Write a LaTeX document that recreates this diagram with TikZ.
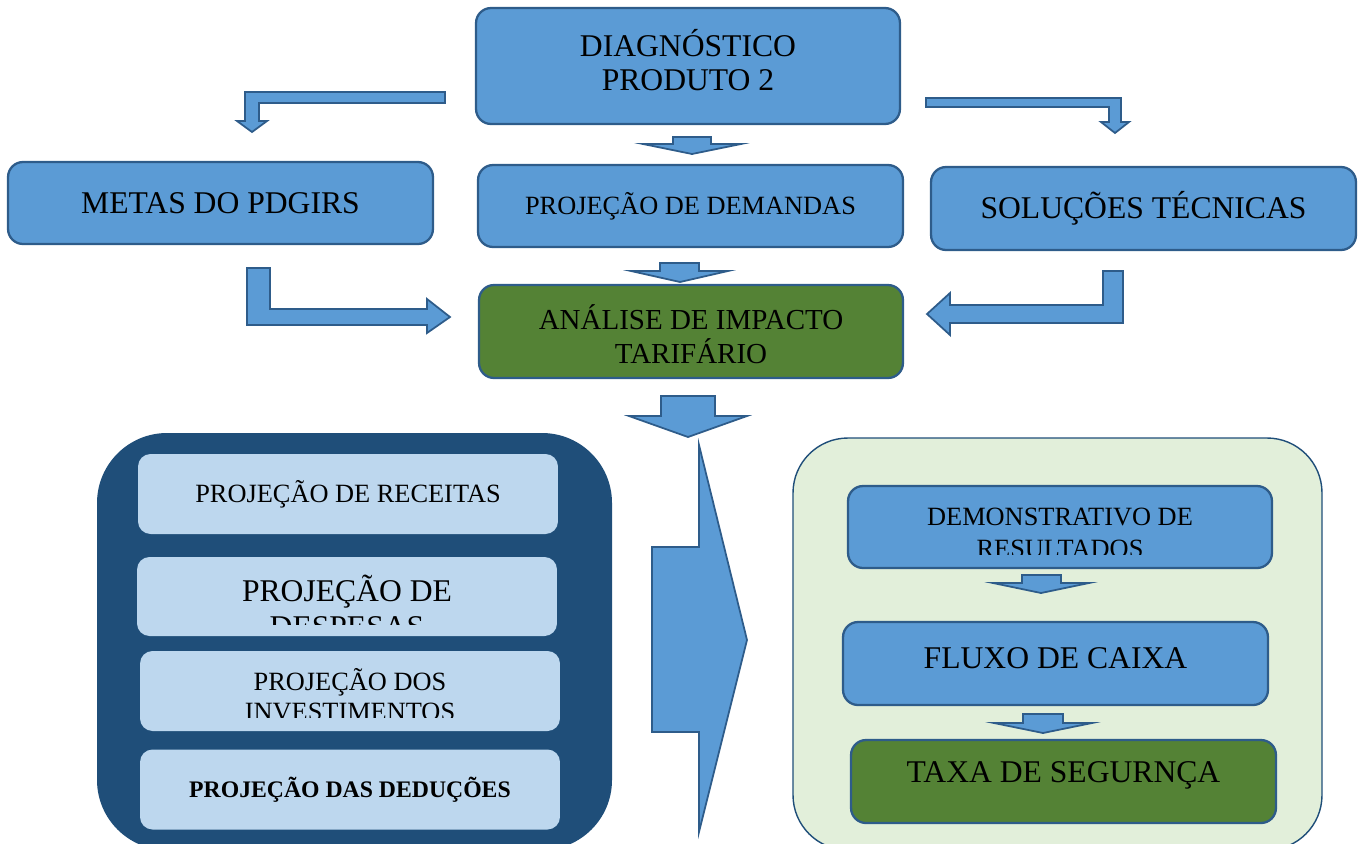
\documentclass[tikz,border=0pt]{standalone}
\usepackage{fontspec}
\setmainfont{Liberation Serif}
\usetikzlibrary{positioning}
\definecolor{boxblue}{HTML}{5B9BD5}
\definecolor{edgeblue}{HTML}{2E5C8A}
\definecolor{boxgreen}{HTML}{548235}
\definecolor{navy}{HTML}{1F4E79}
\definecolor{paleblue}{HTML}{BDD7EE}
\definecolor{palegreen}{HTML}{E2EFDA}

\begin{document}
\begin{tikzpicture}[x=0.02cm,y=-0.02cm,
  bbox/.style={draw=edgeblue,line width=1.3pt,fill=boxblue,rounded corners=0.3cm,align=center,inner sep=0pt,minimum width=8.5cm,minimum height=1.64cm},
  gbox/.style={bbox,fill=boxgreen},
  lbox/.style={fill=paleblue,rounded corners=0.25cm,inner sep=0pt,minimum width=8.4cm,minimum height=1.6cm},
  barrow/.style={draw=edgeblue,line width=1pt,fill=boxblue},
  txt/.style={align=center,inner sep=0pt},
  big/.style={font=\fontsize{18}{19.5}\selectfont},
  mid/.style={font=\fontsize{15}{17}\selectfont}]
\useasboundingbox (0,0) rectangle (1365,843);

% top row
\node[bbox,minimum width=8.48cm,minimum height=2.32cm] (diag) at (688,66) {};
\node[txt,font=\fontsize{18}{19.3}\selectfont] (diagt) at (688,60) {DIAGNÓSTICO\\PRODUTO 2};
\node[bbox,big] (metas) at (220.5,203) {METAS DO PDGIRS};
\node[bbox,mid] (dem) at (690.5,206) {PROJEÇÃO DE DEMANDAS};
\node[bbox,big,minimum height=1.66cm] (sol) at (1143.5,208.5) {SOLUÇÕES TÉCNICAS};
\node[gbox,font=\fontsize{16.5}{19.3}\selectfont,minimum width=8.48cm,minimum height=1.86cm] (imp) at (691,331.5) {};
\node[txt,font=\fontsize{16.5}{19.3}\selectfont] (impt) at (691,334) {ANÁLISE DE IMPACTO\\TARIFÁRIO};

% block arrows
\draw[barrow] (445,92) -- (245,92) -- (245,121) -- (237,121) -- (252,132) -- (267,121) -- (259,121) -- (259,103) -- (445,103) -- cycle;
\draw[barrow] (926,98) -- (1121,98) -- (1121,122) -- (1129,122) -- (1115,133) -- (1101,122) -- (1109,122) -- (1109,107) -- (926,107) -- cycle;
\draw[barrow] (673,137) -- (711,137) -- (711,144) -- (741,144) -- (692,154) -- (643,144) -- (673,144) -- cycle;
\draw[barrow] (660,263) -- (699,263) -- (699,271) -- (728,271) -- (680,282) -- (631,271) -- (660,271) -- cycle;
\draw[barrow] (247,268) -- (270,268) -- (270,309) -- (427,309) -- (427,299) -- (450,317) -- (427,333) -- (427,325) -- (247,325) -- cycle;
\draw[barrow] (1123,271) -- (1103,271) -- (1103,305) -- (950,305) -- (950,293) -- (927,314) -- (950,335) -- (950,323) -- (1123,323) -- cycle;
\draw[barrow] (661,396) -- (715,396) -- (715,416) -- (747,416) -- (688,437) -- (629,416) -- (661,416) -- cycle;
\draw[barrow] (652,547) -- (699,547) -- (699,445) -- (747,640) -- (699,832) -- (699,732) -- (652,732) -- cycle;

% left panel
\fill[navy,rounded corners=1.4cm] (97,433) rectangle (612,850);
\node[lbox,mid] (rec) at (348,494) {PROJEÇÃO DE RECEITAS};
\node[lbox,minimum height=1.58cm] (desp) at (347,596.5) {};
\begin{scope}
\clip (desp.north west) rectangle (557,624);
\node[txt,font=\fontsize{18}{20.4}\selectfont] (despt) at (347,606.5) {PROJEÇÃO DE\\DESPESAS};
\end{scope}
\node[lbox] (inv) at (350,691) {};
\begin{scope}
\clip (inv.north west) rectangle (560,717);
\node[txt,font=\fontsize{15}{17}\selectfont] (invt) at (350,695) {PROJEÇÃO DOS\\INVESTIMENTOS};
\end{scope}
\node[lbox,font=\fontsize{13.5}{15}\selectfont\bfseries] (ded) at (350,789.5) {PROJEÇÃO DAS DEDUÇÕES};

% right panel
\draw[navy,line width=0.8pt,fill=palegreen,rounded corners=1.1cm] (793,438) rectangle (1322,850);
\node[bbox,minimum width=8.48cm] (res) at (1060,527) {};
\begin{scope}
\clip (res.north west) rectangle (1272,554);
\node[txt,font=\fontsize{15}{18}\selectfont] (rest) at (1060,533) {DEMONSTRATIVO DE\\RESULTADOS};
\end{scope}
\draw[barrow] (1022,575) -- (1061,575) -- (1061,583) -- (1089,583) -- (1041,593) -- (993,583) -- (1022,583) -- cycle;
\node[bbox,minimum height=1.66cm] (flux) at (1055.5,663.5) {};
\node[txt,big] (fluxt) at (1055.5,658) {FLUXO DE CAIXA};
\draw[barrow] (1023,714) -- (1063,714) -- (1063,723) -- (1092,723) -- (1043,733) -- (994,723) -- (1023,723) -- cycle;
\node[gbox,minimum height=1.66cm] (taxa) at (1063.5,781.5) {};
\node[txt,big] (taxat) at (1063.5,775) {TAXA DE SEGURNÇA};
\end{tikzpicture}
\end{document}
